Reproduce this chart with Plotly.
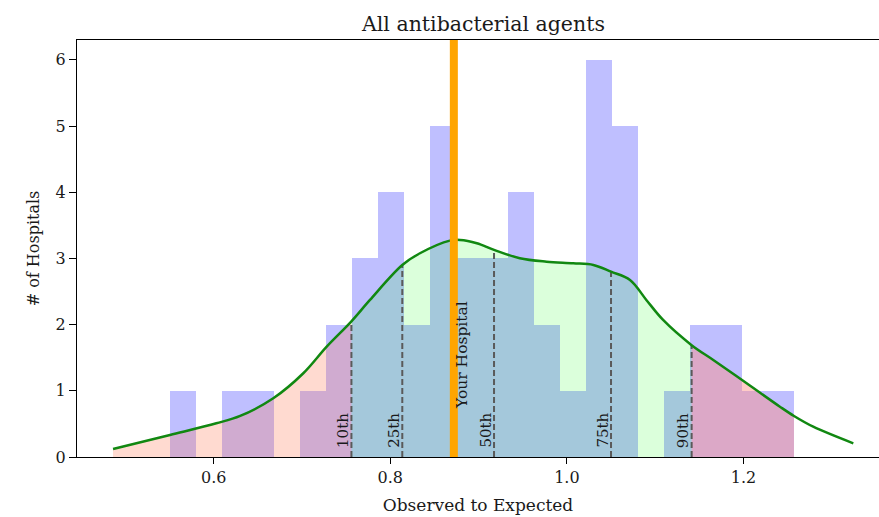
import numpy as np
import plotly.graph_objects as go

# ---------------- data ----------------
bin_edges = [0.5505, 0.5800, 0.6094, 0.6388, 0.6683, 0.6977, 0.7272, 0.7566, 0.7860,
             0.8155, 0.8449, 0.8744, 0.9038, 0.9333, 0.9627, 0.9922, 1.0216, 1.0511,
             1.0805, 1.1099, 1.1394, 1.1688, 1.1983, 1.2277, 1.2572]
counts = [1, 0, 1, 1, 0, 1, 2, 3, 4, 2, 5, 3, 3, 4, 2, 1, 6, 5, 0, 1, 2, 2, 1, 1]

kde_x = [0.486, 0.5505, 0.603, 0.630, 0.6675, 0.7015, 0.728, 0.756, 0.777, 0.8136,
         0.8336, 0.8675, 0.879, 0.898, 0.9175, 0.9467, 0.977, 1.0072, 1.030, 1.050,
         1.0715, 1.090, 1.109, 1.1413, 1.1658, 1.2036, 1.2413, 1.2572, 1.279, 1.3244]
kde_y = [0.121, 0.333, 0.509, 0.620, 0.887, 1.265, 1.667, 2.05, 2.373, 2.90,
         3.078, 3.269, 3.279, 3.23, 3.13, 3.003, 2.951, 2.927, 2.902, 2.80,
         2.675, 2.373, 2.070, 1.69, 1.466, 1.114, 0.760, 0.62, 0.458, 0.207]

pct_labels = ["10th", "25th", "50th", "75th", "90th"]
pct_values = [0.756, 0.8136, 0.9175, 1.050, 1.1413]
pct_heights = [2.05, 2.90, 3.13, 2.80, 1.69]

your_hospital = 0.872
title = "All antibacterial agents"
x_title = "Observed to Expected"
y_title = "# of Hospitals"
x_ticks = [0.6, 0.8, 1.0, 1.2]
y_ticks = [0, 1, 2, 3, 4, 5, 6]

FONT = "DejaVu Serif"
TXT = "#1a1a1a"

edges = np.array(bin_edges)
centers = (edges[:-1] + edges[1:]) / 2
widths = np.diff(edges)

fig = go.Figure()

fig.add_trace(go.Bar(x=centers, y=counts, width=widths,
                     marker=dict(color="rgba(0,0,255,0.25)", line=dict(width=0)),
                     hoverinfo="skip", showlegend=False))

kx = np.array(kde_x)
ky = np.array(kde_y)

def seg(a, b):
    m = (kx >= a - 1e-9) & (kx <= b + 1e-9)
    return kx[m], ky[m]

# fills under KDE
lx, ly = seg(kx[0], pct_values[0])
fig.add_trace(go.Scatter(x=lx, y=ly, mode="lines", line=dict(width=0, shape="spline"),
                         fill="tozeroy", fillcolor="rgba(255,120,80,0.27)",
                         hoverinfo="skip", showlegend=False))
gx, gy = seg(pct_values[0], pct_values[-1])
fig.add_trace(go.Scatter(x=gx, y=gy, mode="lines", line=dict(width=0, shape="spline"),
                         fill="tozeroy", fillcolor="rgba(0,255,0,0.14)",
                         hoverinfo="skip", showlegend=False))
rx, ry = seg(pct_values[-1], bin_edges[-1])
fig.add_trace(go.Scatter(x=rx, y=ry, mode="lines", line=dict(width=0, shape="spline"),
                         fill="tozeroy", fillcolor="rgba(255,140,130,0.45)",
                         hoverinfo="skip", showlegend=False))

# percentile dashed lines
for p, h in zip(pct_values, pct_heights):
    fig.add_trace(go.Scatter(x=[p, p], y=[0, h], mode="lines",
                             line=dict(color="#5a5a5a", width=2, dash="6px,3px"),
                             hoverinfo="skip", showlegend=False))

# KDE curve
fig.add_trace(go.Scatter(x=kx, y=ky, mode="lines",
                         line=dict(color="#118811", width=2.5, shape="spline"),
                         hoverinfo="skip", showlegend=False))

# your hospital line
fig.add_trace(go.Scatter(x=[your_hospital, your_hospital], y=[0, 6.3], mode="lines",
                         line=dict(color="#FFA500", width=8),
                         hoverinfo="skip", showlegend=False))

annotations = []
for lab, p in zip(pct_labels, pct_values):
    annotations.append(dict(x=p, y=0.40, xref="x", yref="y", text=lab, showarrow=False,
                            textangle=-90, xanchor="center", yanchor="middle", xshift=-9,
                            font=dict(family=FONT, size=15, color=TXT)))
annotations.append(dict(x=your_hospital, y=1.54, xref="x", yref="y", text="Your Hospital",
                        showarrow=False, textangle=-90, xanchor="center", yanchor="middle",
                        xshift=8, font=dict(family=FONT, size=15.5, color=TXT)))
annotations.append(dict(x=(483 - 77) / (879 - 77), y=1.0, xref="paper", yref="paper",
                        text=title, showarrow=False, xanchor="center", yanchor="bottom",
                        yshift=2, font=dict(family=FONT, size=20.5, color=TXT)))

fig.update_layout(
    width=879, height=517,
    margin=dict(l=77, r=0, t=40, b=60),
    plot_bgcolor="white", paper_bgcolor="white",
    bargap=0, barmode="overlay",
    showlegend=False,
    annotations=annotations,
    font=dict(family=FONT, size=16, color=TXT),
)
fig.update_xaxes(range=[0.4452, 1.3535], showgrid=False, zeroline=False,
                 showline=True, linecolor="black", linewidth=1, mirror=True,
                 ticks="outside", ticklen=6, tickcolor="black", tickvals=x_ticks,
                 tickformat=".1f", tickfont=dict(family=FONT, size=16, color=TXT),
                 title=dict(text=x_title, font=dict(family=FONT, size=17, color=TXT), standoff=12))
fig.update_yaxes(range=[0, 6.3], showgrid=False, zeroline=False,
                 showline=True, linecolor="black", linewidth=1,
                 ticks="outside", ticklen=7, tickcolor="black", tickvals=y_ticks,
                 tickfont=dict(family=FONT, size=16, color=TXT),
                 title=dict(text=y_title, font=dict(family=FONT, size=16, color=TXT), standoff=12))

fig.write_html("out.html")
